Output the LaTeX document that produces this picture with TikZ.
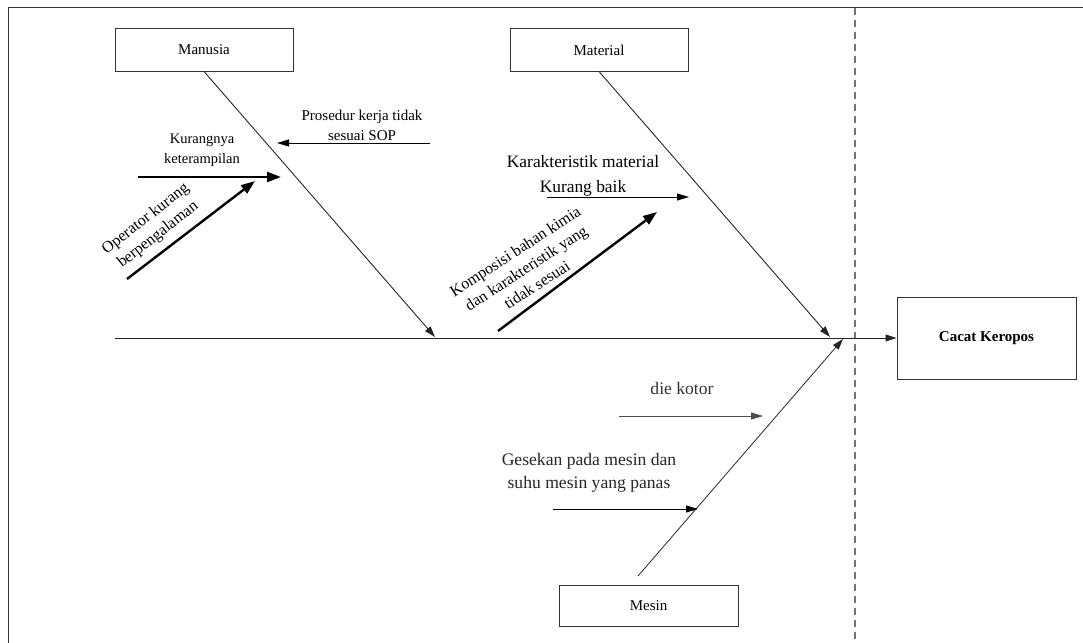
\documentclass[tikz,border=0pt]{standalone}
\usepackage{fontspec}
\setmainfont{Liberation Serif}
\usetikzlibrary{arrows.meta}
\newcommand\fsz[2]{\fontsize{#1}{#2}\selectfont}
\begin{document}
\begin{tikzpicture}[x=1pt,y=-1pt,
  box/.style={draw=black!80, line width=1pt, minimum width=178pt, minimum height=42pt, inner sep=0pt, font=\fsz{15}{18}},
  bone/.style={draw=black!85, line width=0.9pt, -{Triangle[length=11pt,width=7pt]}},
  cause/.style={draw=black, line width=0.9pt, -{Triangle[length=12pt,width=7pt]}},
  heavy/.style={draw=black, line width=2.4pt, -{Triangle[length=14pt,width=10pt]}},
  lbl/.style={align=center, inner sep=0pt}]
\useasboundingbox (0,0) rectangle (1083,642);

% frame and separator
\draw[black!80, line width=1pt] (8,660) -- (8,8) -- (1100,8);
\draw[black!55, line width=1.2pt, dash pattern=on 7pt off 5pt] (855,8) -- (855,660);

% category boxes and effect
\node[box] (man) at (204,50) {Manusia};
\node[box] (mat) at (599,50) {Material};
\node[box, minimum width=179pt, minimum height=41pt] (mes) at (648.5,605.5) {Mesin};
\node[box, minimum width=179pt, minimum height=82pt, font=\bfseries\fsz{15}{18}] (eff) at (986.5,338) {Cacat Keropos};

% spine
\coordinate (tail) at (115,338);
\draw[bone] (tail) -- (eff.west);

% main bones
\coordinate (manEnd) at (435,337);
\coordinate (matEnd) at (830,337);
\coordinate (mesStart) at (638,576);
\coordinate (mesEnd) at (843,339);
\draw[bone] (man.south) -- (manEnd);
\draw[bone] (mat.south) -- (matEnd);
\draw[bone, line width=0.8pt] (mesStart) -- (mesEnd);

% Manusia causes
\node[lbl, font=\fsz{15}{20}] (prosT) at (362,125) {Prosedur kerja tidak\\sesuai SOP};
\coordinate (prosA) at (430,143);
\coordinate (prosB) at (277,143);
\draw[cause] (prosA) -- (prosB);

\node[lbl, font=\fsz{14.5}{20}] (kurT) at (202,150) {Kurangnya\\keterampilan};
\coordinate (kurA) at (138,177);
\coordinate (kurB) at (281,177);
\draw[heavy] (kurA) -- (kurB);

\node[lbl, font=\fsz{16}{20}, rotate=38] (opT) at (152,227) {Operator kurang\\berpengalaman};
\coordinate (opA) at (127,279);
\coordinate (opB) at (255,181);
\draw[heavy] (opA) -- (opB);

% Material causes
\node[lbl, font=\fsz{17.4}{25}] (karT) at (583,176) {Karakteristik material\\Kurang baik};
\coordinate (karA) at (547,197);
\coordinate (karB) at (689,197);
\draw[cause] (karA) -- (karB);

\node[lbl, font=\fsz{16}{20}, rotate=33] (komT) at (526,268) {Komposisi bahan kimia\\dan karakteristik yang\\tidak sesuai};
\coordinate (komA) at (498,331);
\coordinate (komB) at (657,212);
\draw[heavy] (komA) -- (komB);

% Mesin causes
\node[lbl, font=\fsz{17.6}{22}, text=black!80] (dieT) at (682,388) {die kotor};
\coordinate (dieA) at (619,416);
\coordinate (dieB) at (763,416);
\draw[cause, draw=black!70] (dieA) -- (dieB);

\node[lbl, font=\fsz{17.6}{23}, text=black!85] (gesT) at (589,473) {Gesekan pada mesin dan\\suhu mesin yang panas};
\coordinate (gesA) at (553,509);
\coordinate (gesB) at (698,509);
\draw[cause] (gesA) -- (gesB);
\end{tikzpicture}
\end{document}
